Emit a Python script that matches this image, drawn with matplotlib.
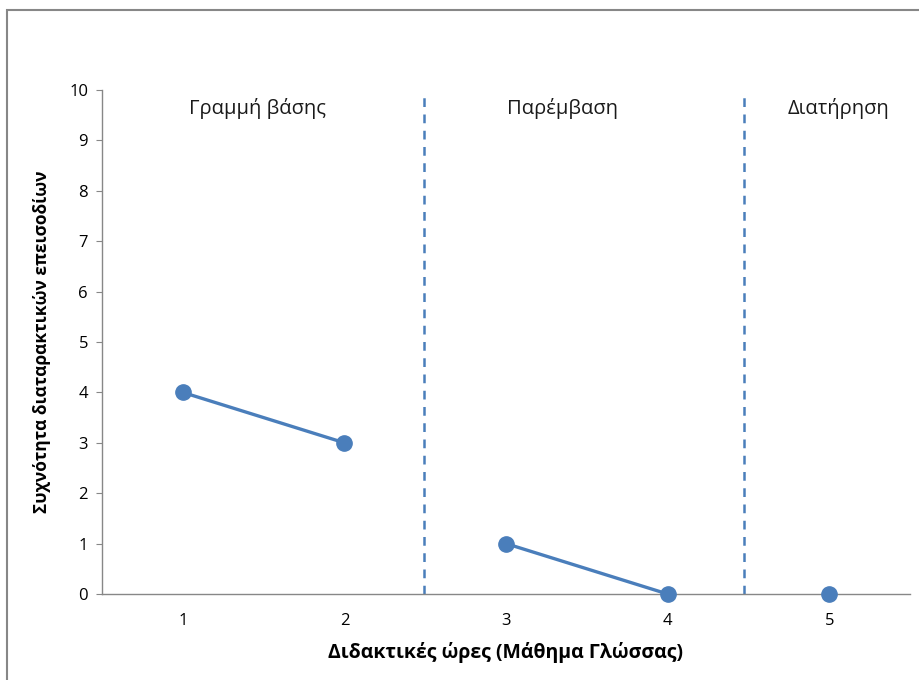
import matplotlib.pyplot as plt
from matplotlib.patches import Rectangle

plt.rcParams['font.family'] = ['Open Sans', 'DejaVu Sans']

# data
baseline_x = [1, 2]
baseline_y = [4, 3]
intervention_x = [3, 4]
intervention_y = [1, 0]
maintenance_x = [5]
maintenance_y = [0]
phase_names = ['Γραμμή βάσης', 'Παρέμβαση', 'Διατήρηση']
phase_label_x = [1.46, 3.35, 5.06]
phase_breaks = [2.49, 4.47]
x_ticks = [1, 2, 3, 4, 5]
y_ticks = list(range(0, 11))

blue = '#4A7EBB'

fig = plt.figure(figsize=(9.2, 6.8), dpi=100)
fig.patches.append(Rectangle((7 / 920, -0.01), 1.0, 1 - 10 / 680 + 0.01,
                             transform=fig.transFigure, fill=False,
                             edgecolor='#878787', linewidth=1.5))
ax = fig.add_axes([102 / 920, 1 - 594 / 680, (910 - 102) / 920, (594 - 90) / 680])

for xs, ys in [(baseline_x, baseline_y), (intervention_x, intervention_y),
               (maintenance_x, maintenance_y)]:
    ax.plot(xs, ys, color=blue, linewidth=2.4, marker='o', markersize=11,
            clip_on=False, zorder=3)

for b in phase_breaks:
    ax.plot([b, b], [0, 9.93], color=blue, linestyle=(0, (3.5, 3)),
            linewidth=1.8, zorder=2)

for name, px in zip(phase_names, phase_label_x):
    ax.text(px, 9.64, name, ha='center', va='center', fontsize=14.5, color='#1a1a1a')

ax.set_xlim(0.5, 5.5)
ax.set_ylim(0, 10)
ax.set_xticks(x_ticks)
ax.set_yticks(y_ticks)
ax.tick_params(axis='x', length=0, pad=14, labelsize=12)
ax.tick_params(axis='y', length=4, color='#878787', pad=6, labelsize=12)
for s in ['top', 'right']:
    ax.spines[s].set_visible(False)
for s in ['left', 'bottom']:
    ax.spines[s].set_color('#878787')
    ax.spines[s].set_linewidth(1.0)

ax.set_xlabel('Διδακτικές ώρες (Μάθημα Γλώσσας)', fontsize=14,
              fontweight='bold', labelpad=9)
ax.set_ylabel('Συχνότητα διαταρακτικών επεισοδίων', fontsize=12.5,
              fontweight='bold', labelpad=13)

fig.savefig('out.png', dpi=100)
